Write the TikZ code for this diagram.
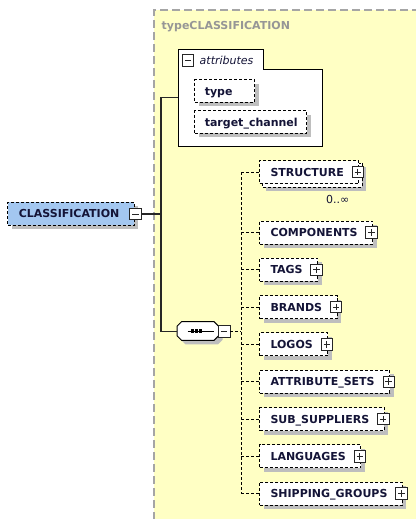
\documentclass[tikz,border=0pt]{standalone}
\usepackage{fontspec}
\setmainfont{DejaVu Sans}
\usetikzlibrary{shadows,calc}

\definecolor{ylw}{RGB}{255,255,196}
\definecolor{framegray}{RGB}{165,165,165}
\definecolor{shade}{RGB}{190,190,190}
\definecolor{ink}{RGB}{20,20,55}
\definecolor{selblue}{RGB}{163,199,240}
\definecolor{titlegray}{RGB}{150,150,150}

\pgfdeclarelayer{bg}
\pgfdeclarelayer{mid}
\pgfsetlayers{bg,mid,main}

\tikzset{
  lbl/.style={font=\fontsize{11}{13}\selectfont\bfseries, text=ink},
  sh/.style={drop shadow={opacity=1, fill=shade, shadow xshift=4pt, shadow yshift=-4pt}},
  elemline/.style={draw=black, line width=1pt, dash pattern=on 3pt off 2pt},
  elem/.style={lbl, elemline, fill=white, minimum height=23pt, inner xsep=0pt,
    inner ysep=0pt, text height=8pt, text depth=0pt, anchor=west,
    execute at begin node={\hspace*{11pt}}, execute at end node={\hspace*{15pt}}},
  elemsh/.style={elem, sh},
  attrbox/.style={lbl, elemline, fill=white, sh, minimum height=22.5pt, inner xsep=0pt,
    inner ysep=0pt, text height=8.5pt, text depth=0pt, anchor=west},
  pm/.style={draw=black!85, solid, fill=white, line width=0.8pt, minimum size=11.5pt, inner sep=0pt},
  minusbox/.style={pm, path picture={
    \draw[line width=0.8pt] ([xshift=2.5pt]path picture bounding box.west) -- ([xshift=-2.5pt]path picture bounding box.east);}},
  plusbox/.style={pm, path picture={
    \draw[line width=0.8pt] ([xshift=2.5pt]path picture bounding box.west) -- ([xshift=-2.5pt]path picture bounding box.east)
      ([yshift=-2.5pt]path picture bounding box.north) -- ([yshift=2.5pt]path picture bounding box.south);}},
  conn/.style={line width=1.2pt, draw=black!85},
  dconn/.style={line width=1pt, draw=black, dash pattern=on 3pt off 2pt},
}

\begin{document}
\begin{tikzpicture}[x=1pt,y=-1pt]
\useasboundingbox (0,0) rectangle (415,519);

% complex type area
\begin{pgfonlayer}{bg}
  \fill[ylw] (154,10) rectangle (416,520);
  \draw[framegray, line width=2pt, dash pattern=on 8pt off 4pt] (154,520) -- (154,10) -- (416,10);
\end{pgfonlayer}
\node[anchor=base west, inner sep=0pt, font=\fontsize{11}{13}\selectfont\bfseries, text=titlegray] (title) at (161.5,29.5) {typeCLASSIFICATION};

% attributes group
\node[minimum width=143.4pt, minimum height=77.5pt, inner sep=0pt, anchor=north west] (attrs) at (178.3,69) {};
\coordinate (tabtop) at (263.3,49.5);
\draw[line width=1pt, fill=white] (attrs.south west) -- (attrs.south west |- tabtop) -- (tabtop)
  -- (tabtop |- attrs.north) -- (attrs.north east) -- (attrs.south east) -- cycle;
\node[minusbox] (attrminus) at (188,60.5) {};
\node[anchor=base west, inner sep=0pt, font=\fontsize{11}{13}\selectfont\itshape, text=ink] (attrlabel) at (199.5,64) {attributes};
\node[attrbox] (type) at (194.3,91) {\hspace*{10pt}type\hspace*{22pt}};
\node[attrbox] (target) at (194.3,122) {\hspace*{10pt}target\_channel\hspace*{9pt}};

% root element
\node[elemsh, fill=selblue] (classif) at (7.3,213.7) {CLASSIFICATION};
\node[minusbox] (cminus) at (135.5,214) {};

% trunk
\coordinate (trunktop) at (161,97.3);
\coordinate (trunkbot) at (161,331.3);

% sequence compositor
\node[minimum width=41pt, minimum height=18.3pt, inner sep=0pt] (seq) at (197.8,331) {};
\draw[line width=1pt, fill=white, sh]
  ([xshift=4.5pt]seq.north west) -- ([xshift=-4.5pt]seq.north east) -- ([yshift=-4.5pt]seq.north east)
  -- ([yshift=4.5pt]seq.south east) -- ([xshift=-4.5pt]seq.south east) -- ([xshift=4.5pt]seq.south west)
  -- ([yshift=4.5pt]seq.south west) -- ([yshift=-4.5pt]seq.north west) -- cycle;
\draw[line width=0.8pt] ([xshift=10.5pt]seq.west) -- ([xshift=-5pt]seq.east);
\foreach \dx in {192.3,196.5,200.7}
  \fill (\dx-1.6,329.4) rectangle (\dx+1.6,332.6);
\node[minusbox] (seqminus) at (224.2,331.5) {};

\draw[conn] (attrs.west |- trunktop) -- (trunktop) -- (trunkbot) -- (seq.west |- trunkbot);
\draw[conn] (cminus.east) -- (cminus.east -| trunktop);

% child elements
\coordinate (bus) at (241,0);
\node[elem] (structure) at (259,172) {STRUCTURE};
\begin{pgfonlayer}{mid}
  \draw[elemline, fill=white, sh] ([shift={(3,3)}]structure.north west) rectangle ([shift={(3,3)}]structure.south east);
\end{pgfonlayer}
\node[plusbox] (structure-plus) at ([xshift=-1.5pt]structure.east) {};
\node[anchor=base west, inner sep=0pt, font=\fontsize{11}{13}\selectfont, text=ink] (mult) at (326,203.5) {0..∞};

\foreach \n/\t/\y in {components/COMPONENTS/232.5, tags/TAGS/269.8, brands/BRANDS/307.1,
    logos/LOGOS/344.4, attrsets/ATTRIBUTE\_SETS/381.7, subsup/SUB\_SUPPLIERS/419.0,
    languages/LANGUAGES/456.3, shipping/SHIPPING\_GROUPS/493.6} {
  \node[elemsh] (\n) at (259,\y) {\t};
  \node[plusbox] (\n-plus) at ([xshift=-1.5pt]\n.east) {};
  \draw[dconn] (bus |- \n.west) -- (\n.west);
}
\draw[dconn] (bus |- structure.west) -- (structure.west);
\draw[dconn] (bus |- structure.west) -- (bus |- shipping.west);
\draw[dconn] (seqminus.east) -- (seqminus.east -| bus);
\end{tikzpicture}
\end{document}
